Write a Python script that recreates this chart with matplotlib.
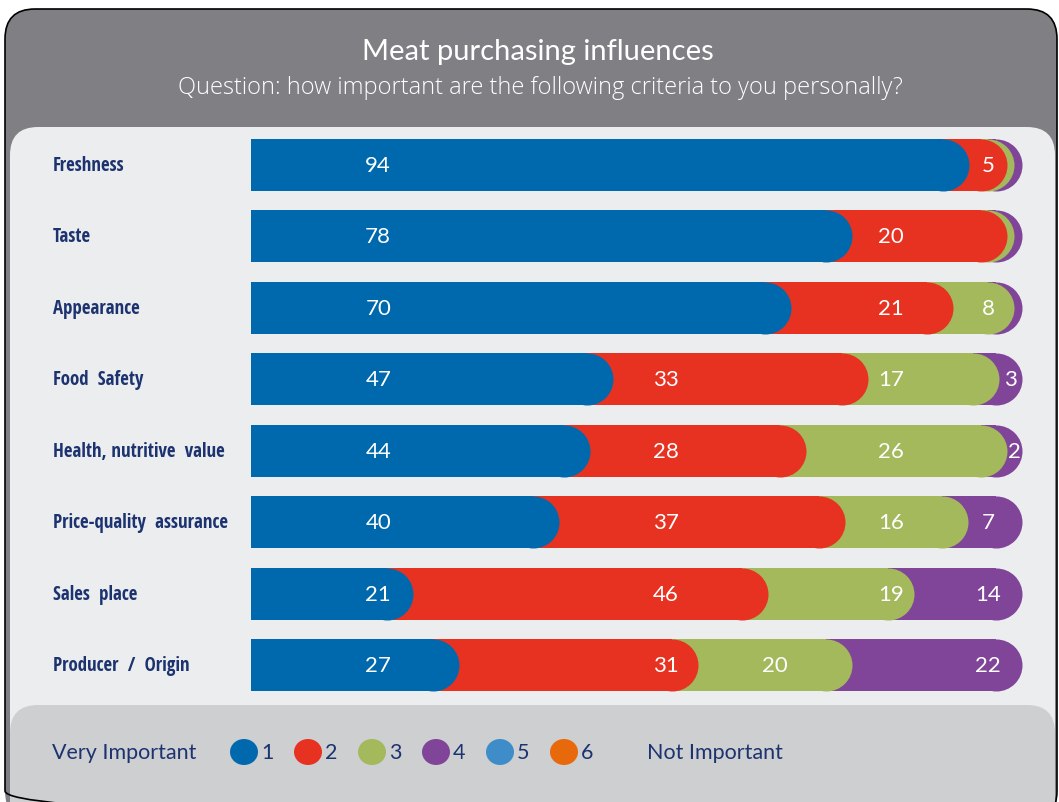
import matplotlib
matplotlib.use("Agg")
import matplotlib.pyplot as plt
from matplotlib.patches import FancyBboxPatch, Ellipse
import numpy as np

# data (percent of respondents per importance level)
categories = ["Freshness", "Taste", "Appearance", "Food  Safety",
              "Health, nutritive  value", "Price-quality  assurance",
              "Sales  place", "Producer  /  Origin"]
level1 = [94, 78, 70, 47, 44, 40, 21, 27]
level2 = [5, 20, 21, 33, 28, 37, 46, 31]
level3 = [1, 1, 8, 17, 26, 16, 19, 20]
level4 = [1, 1, 1, 3, 2, 7, 14, 22]

legend_levels = ["1", "2", "3", "4", "5", "6"]
colors = ["#0069ad", "#e73222", "#a3b95c", "#804598", "#3f8dc8", "#e8690c"]

title = "Meat purchasing influences"
subtitle = "Question: how important are the following criteria to you personally?"

navy = "#1c3370"
W, H = 1059, 803

fig = plt.figure(figsize=(W / 100, H / 100), dpi=100)
fig.patch.set_facecolor("white")

# background panel in pixel coordinates
bg = fig.add_axes([0, 0, 1, 1])
bg.set_xlim(0, W)
bg.set_ylim(H, 0)
bg.axis("off")

outer = FancyBboxPatch((5, 10), 1052, 812, boxstyle="round,pad=0,rounding_size=30",
                       fc="#807f84", ec="none", zorder=0)
bg.add_patch(outer)
body = FancyBboxPatch((10, 128), 1045, 700, boxstyle="round,pad=0,rounding_size=28",
                      fc="#ecedef", ec="none", zorder=1)
body.set_clip_path(outer)
bg.add_patch(body)
band = FancyBboxPatch((10, 706), 1045, 130, boxstyle="round,pad=0,rounding_size=28",
                      fc="#cecfd1", ec="none", zorder=2)
band.set_clip_path(outer)
bg.add_patch(band)
bg.add_patch(FancyBboxPatch((5, 10), 1052, 812, boxstyle="round,pad=0,rounding_size=30",
                            fc="none", ec="black", lw=1.2, zorder=3))

bg.text(538, 52, title, color="white", fontsize=21, family="Lato",
        ha="center", va="center")
bg.text(540, 88, subtitle, color="white", fontsize=17, family="Open Sans",
        fontweight=300, ha="center", va="center")

# legend
bg.text(52, 753, "Very Important", color=navy, fontsize=15.5, family="Lato",
        ha="left", va="center")
for i, (lab, c) in enumerate(zip(legend_levels, colors)):
    cx = 244 + i * 64
    bg.add_patch(Ellipse((cx, 753), 28, 26, fc=c, ec="none", zorder=5))
    bg.text(cx + 17, 753, lab, color=navy, fontsize=15.5, family="Lato",
            ha="left", va="center")
bg.text(647, 753, "Not Important", color=navy, fontsize=15.5, family="Lato",
        ha="left", va="center")

# bar area: 100 % spans x 251..1022 px, rows centred at 166..666 px
x0, x1 = 251, 1022
row_h = (666 - 166) / 7
top = 166 - row_h / 2
bot = 666 + row_h / 2
ax = fig.add_axes([x0 / W, 1 - bot / H, (x1 - x0) / W, (bot - top) / H])
ax.set_xlim(0, 100)
ax.set_ylim(len(categories) - 0.5, -0.5)
ax.axis("off")
ax.patch.set_alpha(0)

bar_px = 52
bar_h = bar_px / row_h
r = (bar_px / 2) / (x1 - x0) * 100
marker_pt = bar_px * 72 / 100

data = np.array([level1, level2, level3, level4], dtype=float)
share = data / data.sum(axis=0) * 100
cum = np.cumsum(share, axis=0)
ys = np.arange(len(categories))

# value labels sit in fixed columns; a segment uses the first column
# (from its own onwards) that falls inside its visible part
label_cols = [16.5, 53.8, 83.0, 95.6]

for k in range(data.shape[0]):
    z = 10 - k
    ends = cum[k]
    ax.barh(ys, ends - r, left=0, height=bar_h, color=colors[k], lw=0, zorder=z)
    ax.scatter(ends - r, ys, s=marker_pt ** 2, color=colors[k], lw=0,
               marker="o", zorder=z)
    starts = cum[k - 1] if k > 0 else np.zeros(len(ys))
    for j in ys:
        v = data[k, j]
        if v < 2:
            continue
        pos = None
        for col in label_cols[k:]:
            if starts[j] + 1.8 < col < ends[j] - 1.8:
                pos = col
                break
        if pos is None:
            pos = (starts[j] + ends[j]) / 2
        ax.text(pos, j, "%d" % v, color="white", fontsize=16, family="Lato",
                ha="center", va="center", zorder=20)

for j, name in enumerate(categories):
    bg.text(53, 166 + j * row_h, name, color=navy, fontsize=13.6,
            family=["Open Sans Condensed", "DejaVu Sans"], fontweight="bold",
            ha="left", va="center", zorder=6)

fig.savefig("out.png", dpi=100)
